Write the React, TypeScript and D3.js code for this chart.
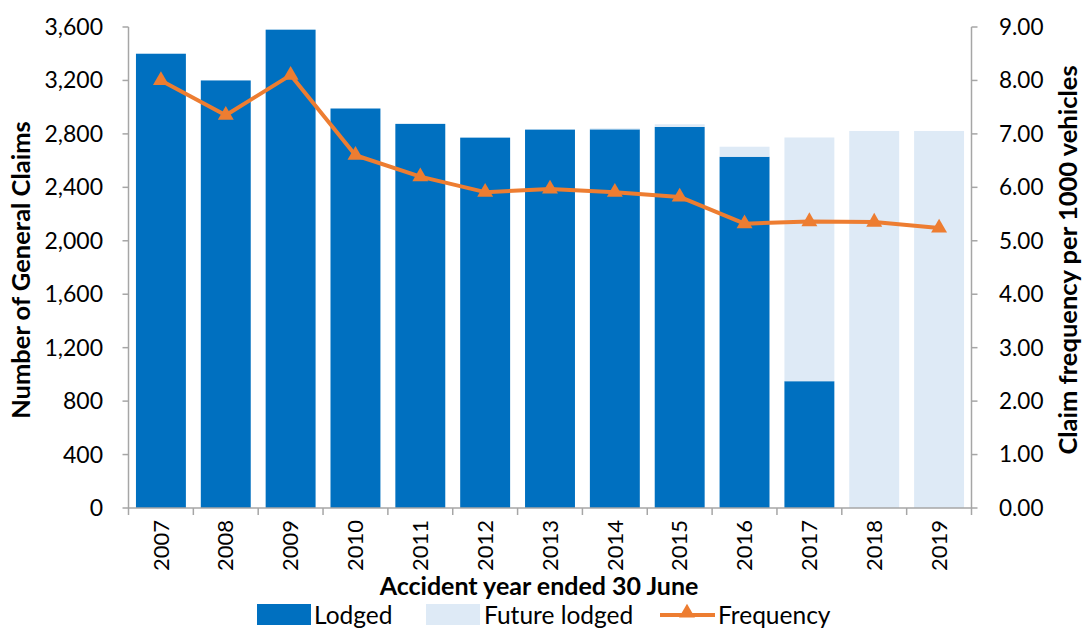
import React from "react";
import * as d3 from "d3";

const years = ["2007","2008","2009","2010","2011","2012","2013","2014","2015","2016","2017","2018","2019"];
const lodged = [3400, 3200, 3580, 2990, 2875, 2772, 2832, 2834, 2852, 2629, 949, 0, 0];
const futureLodged = [0, 0, 0, 0, 0, 0, 0, 8, 20, 75, 1824, 2822, 2822];
const frequency = [8.0, 7.35, 8.1, 6.6, 6.2, 5.91, 5.97, 5.91, 5.82, 5.32, 5.36, 5.35, 5.24];
const leftTicks = [0, 400, 800, 1200, 1600, 2000, 2400, 2800, 3200, 3600];
const rightTicks = [0, 1, 2, 3, 4, 5, 6, 7, 8, 9];

const W = 1083, H = 628;
const X0 = 128.5, X1 = 971.5, Y0 = 508, Y1 = 27;
const FONT = "Lato, 'Open Sans', sans-serif";
const DARK = "#0070C0", LIGHT = "#DEEAF6", ORANGE = "#ED7D31", AXIS = "#A6A6A6";

export default function App() {
  const x = d3.scaleBand<string>().domain(years).range([X0, X1]).paddingInner(0.23).paddingOuter(0.115);
  const yL = d3.scaleLinear().domain([0, 3600]).range([Y0, Y1]);
  const yR = d3.scaleLinear().domain([0, 9]).range([Y0, Y1]);
  const line = d3.line<number>().x((_, i) => (x(years[i]) as number) + x.bandwidth() / 2).y(d => yR(d));
  const tri = d3.symbol().type(d3.symbolTriangle).size(110)() as string;
  const fmtL = d3.format(",");
  const fmtR = d3.format(".2f");
  const step = x.step();
  return (
    <svg width={W} height={H} style={{ position: "absolute", left: 0, top: 0, display: "block", background: "#fff" }} fontFamily={FONT}>
      {years.map((yr, i) => (
        <g key={yr}>
          <rect x={x(yr)} width={x.bandwidth()} y={yL(lodged[i])} height={Y0 - yL(lodged[i])} fill={DARK} />
          {futureLodged[i] > 0 && (
            <rect x={x(yr)} width={x.bandwidth()} y={yL(lodged[i] + futureLodged[i])} height={yL(lodged[i]) - yL(lodged[i] + futureLodged[i])} fill={LIGHT} />
          )}
        </g>
      ))}
      {/* left axis */}
      <line x1={X0} x2={X0} y1={Y1} y2={Y0} stroke={AXIS} strokeWidth={1.5} />
      {leftTicks.map(t => (
        <g key={t}>
          <line x1={X0 - 6} x2={X0} y1={yL(t)} y2={yL(t)} stroke={AXIS} strokeWidth={1.5} />
          <text x={103} y={yL(t)} dy="0.35em" textAnchor="end" fontSize={23} fill="#000">{fmtL(t)}</text>
        </g>
      ))}
      {/* right axis */}
      <line x1={X1} x2={X1} y1={Y1} y2={Y0} stroke={AXIS} strokeWidth={1.5} />
      {rightTicks.map(t => (
        <g key={t}>
          <line x1={X1} x2={X1 + 6} y1={yR(t)} y2={yR(t)} stroke={AXIS} strokeWidth={1.5} />
          <text x={999} y={yR(t)} dy="0.35em" textAnchor="start" fontSize={22.5} fill="#000">{fmtR(t)}</text>
        </g>
      ))}
      {/* bottom axis */}
      <line x1={X0} x2={X1} y1={Y0} y2={Y0} stroke={AXIS} strokeWidth={1.5} />
      {d3.range(years.length + 1).map(i => (
        <line key={i} x1={X0 + i * step} x2={X0 + i * step} y1={Y0} y2={Y0 + 7} stroke={AXIS} strokeWidth={1.5} />
      ))}
      {years.map(yr => {
        const cx = (x(yr) as number) + x.bandwidth() / 2;
        return (
          <text key={yr} transform={`translate(${cx},${520}) rotate(-90)`} dy="0.35em" textAnchor="end" fontSize={22} fill="#000">{yr}</text>
        );
      })}
      {/* frequency line */}
      <path d={line(frequency) as string} fill="none" stroke={ORANGE} strokeWidth={4} strokeLinejoin="round" />
      {frequency.map((f, i) => (
        <path key={i} d={tri} transform={`translate(${(x(years[i]) as number) + x.bandwidth() / 2},${yR(f)})`} fill={ORANGE} />
      ))}
      {/* axis titles */}
      <text transform={`translate(21,${270}) rotate(-90)`} dy="0.35em" textAnchor="middle" fontSize={25.5} fontWeight="bold">Number of General Claims</text>
      <text transform={`translate(1068,${260}) rotate(-90)`} dy="0.35em" textAnchor="middle" fontSize={25.5} fontWeight="bold">Claim frequency per 1000 vehicles</text>
      <text x={539} y={586} dy="0.35em" textAnchor="middle" fontSize={25} fontWeight="bold">Accident year ended 30 June</text>
      {/* legend */}
      <g>
        <rect x={257} y={604} width={54} height={21} fill={DARK} />
        <text x={314} y={615} dy="0.35em" fontSize={24.5}>Lodged</text>
        <rect x={426} y={604} width={54} height={21} fill={LIGHT} />
        <text x={484} y={615} dy="0.35em" fontSize={24.5}>Future lodged</text>
        <line x1={660} x2={715} y1={615} y2={615} stroke={ORANGE} strokeWidth={4} />
        <path d={tri} transform="translate(687,613)" fill={ORANGE} />
        <text x={718} y={615} dy="0.35em" fontSize={24.5}>Frequency</text>
      </g>
    </svg>
  );
}
